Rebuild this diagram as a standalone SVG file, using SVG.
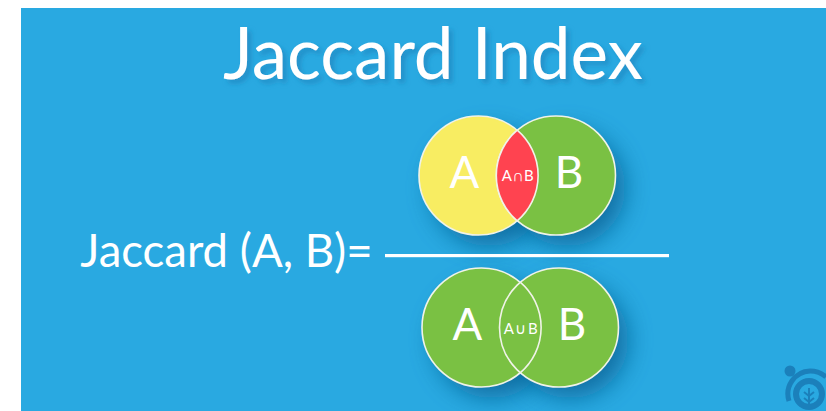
<svg xmlns="http://www.w3.org/2000/svg" width="826" height="411" viewBox="0 0 826 411">
<defs>
<filter id="sh" x="-50%" y="-50%" width="220%" height="220%"><feGaussianBlur stdDeviation="12"/></filter>
<filter id="ts" x="-10%" y="-30%" width="120%" height="160%"><feDropShadow dx="4" dy="4" stdDeviation="2.5" flood-color="#1a7fb8" flood-opacity=".6"/></filter>
</defs>
<style>
text{font-family:"Lato","Open Sans","Liberation Sans",sans-serif;fill:#fff;text-anchor:middle}
.c{stroke:#f0f3e8;stroke-width:1.6}
.s{fill:#11699c;opacity:.9;filter:url(#sh)}
.big{font-size:44px}
.small{font-size:15px;letter-spacing:1.5px}
</style>
<rect width="826" height="411" fill="#fff"/>
<rect x="21" y="8" width="805" height="403" fill="#29a9e1"/>
<g id="title">
<text x="433" y="79" font-size="71" filter="url(#ts)">Jaccard Index</text>
</g>
<g id="shadows">
<circle class="s" cx="489" cy="188" r="58"/><circle class="s" cx="567" cy="188" r="58"/>
<circle class="s" cx="492" cy="340" r="58"/><circle class="s" cx="570" cy="340" r="58"/>
</g>
<g id="venn-intersection">
<circle class="c" cx="478.5" cy="175.5" r="59.5" fill="#f8ed62"/>
<circle class="c" cx="556" cy="175.5" r="59.5" fill="#7ac143"/>
<path class="c" d="M517.2 130.2A59.5 59.5 0 0 1 517.2 220.8A59.5 59.5 0 0 1 517.2 130.2Z" fill="#ff4350"/>
<text class="big" x="464.5" y="188">A</text>
<text class="big" x="569" y="188">B</text>
<text class="small" x="518.5" y="181">A∩B</text>
</g>
<g id="equation">
<text x="226.5" y="267" font-size="45.5">Jaccard (A, B)=</text>
<rect x="385" y="254" width="284" height="3.2" fill="#fff"/>
</g>
<g id="venn-union">
<circle class="c" cx="481.5" cy="327.5" r="59.5" fill="#7ac143"/>
<circle class="c" cx="559" cy="327.5" r="59.5" fill="#7ac143"/>
<path d="M520.2 282.2A59.5 59.5 0 0 1 520.2 372.8" fill="none" stroke="#f0f3e8" stroke-width="1.6"/>
<text class="big" x="467.5" y="340">A</text>
<text class="big" x="572" y="340">B</text>
<text class="small" x="521.5" y="334">A∪B</text>
</g>
<g id="logo" fill="none" stroke="#1b80bb">
<circle cx="790" cy="371" r="5.5" fill="#1b80bb" stroke="none"/>
<path d="M789 401A23 23 0 0 1 810 371A24 24 0 0 1 826 377" stroke-width="5"/>
<circle cx="809" cy="394" r="13" stroke-width="6"/>
<path d="M809 406V388M809 396L804 392M809 396L814 392M809 402L804 398M809 402L814 398" stroke-width="2"/>
</g>
</svg>
